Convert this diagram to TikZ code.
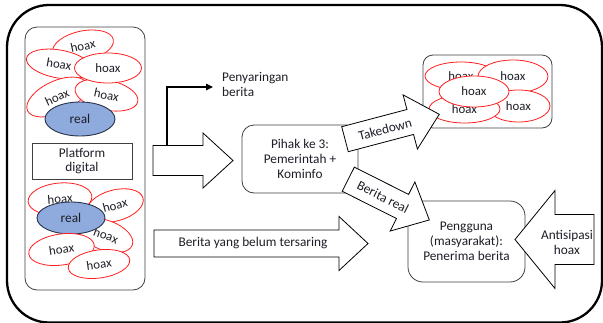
\documentclass[tikz,border=0pt]{standalone}
\usepackage{fontspec}
\setmainfont{Carlito}
\usetikzlibrary{shapes.geometric,arrows.meta}
\definecolor{hoaxred}{RGB}{255,30,30}
\definecolor{realfill}{RGB}{143,170,220}
\definecolor{realline}{RGB}{40,50,75}
\definecolor{boxline}{RGB}{64,64,64}
\definecolor{txt}{RGB}{30,30,40}
\newcommand\blkarrow[6]{%
  \draw[blk,shift={#1},rotate=#2] (0,-#4/2) -- ({#3-#6},-#4/2) -- ({#3-#6},-#5/2) -- (#3,0)
    -- ({#3-#6},#5/2) -- ({#3-#6},#4/2) -- (0,#4/2) -- cycle;}
\begin{document}
\begin{tikzpicture}[x=1pt,y=-1pt,
  font=\fontsize{13.3}{14.8}\selectfont, text=txt,
  hoaxell/.style={ellipse,draw=hoaxred,fill=white,line width=0.8pt,inner sep=0pt,font=\fontsize{12.8}{14}\selectfont},
  realell/.style={ellipse,draw=realline,fill=realfill,line width=0.9pt,inner sep=0pt},
  roundbox/.style={draw=boxline,fill=white,rounded corners=12pt,line width=0.8pt,align=center,inner sep=0pt},
  blk/.style={draw=black,fill=white,line width=0.8pt,line join=miter},
  lbl/.style={align=center,inner sep=0pt}]
\useasboundingbox (0,0) rectangle (603,322);
\clip (0,0) rectangle (603,322);
% outer frame
\draw[line width=2.3pt,rounded corners=42pt] (7,5) rectangle (602,322.5);
% left panel
\node[roundbox,minimum width=120pt,minimum height=263pt] (panel) at (85,158.5) {};
% top cluster
\node[hoaxell,minimum width=62pt,minimum height=30pt,rotate=12] (ha) at (83,46) {hoax};
\node[hoaxell,minimum width=66pt,minimum height=28pt,rotate=-10] (hb) at (59,64) {hoax};
\node[hoaxell,minimum width=65pt,minimum height=32pt,rotate=25] (hd) at (57,97) {hoax};
\node[hoaxell,minimum width=64pt,minimum height=30pt,rotate=-12] (he) at (106.5,95) {hoax};
\node[hoaxell,minimum width=67pt,minimum height=30pt] (hc) at (108,68) {hoax};
\node[realell,minimum width=70pt,minimum height=34pt] (real1) at (80,119) {real};
% platform
\node[draw=boxline,fill=white,line width=0.8pt,minimum width=100pt,minimum height=36pt,align=center,inner sep=0pt] (platform) at (82,161) {Platform\\digital};
% bottom cluster
\node[hoaxell,minimum width=64pt,minimum height=32pt,rotate=5] (hf) at (60,199) {hoax};
\node[hoaxell,minimum width=58pt,minimum height=31pt,rotate=15] (hg) at (115,205.5) {hoax};
\node[hoaxell,minimum width=56pt,minimum height=30pt,rotate=-20] (hh) at (106,235.5) {hoax};
\node[realell,minimum width=68pt,minimum height=32pt] (real2) at (71,218) {real};
\node[hoaxell,minimum width=66pt,minimum height=31pt,rotate=8] (hi) at (61.5,249.5) {hoax};
\node[hoaxell,minimum width=62pt,minimum height=28pt,rotate=8] (hj) at (99,264) {hoax};
% big arrow to Pihak
\blkarrow{(153,160.5)}{0}{80}{30}{55}{30}
\coordinate (elbstart) at (167,145.5);
\coordinate (elbend) at (213,87);
\draw[line width=1.2pt,-{Triangle[length=7pt,width=6.5pt]}] (elbstart) |- (elbend);
\node[anchor=west,align=left,inner sep=0pt] (penyaringan) at (222,84.5) {Penyaringan\\berita};
% Pihak box
\node[roundbox,minimum width=116pt,minimum height=68pt] (pihak) at (300,159) {Pihak ke 3:\\Pemerintah +\\Kominfo};
% hoax group
\node[roundbox,rounded corners=10pt,minimum width=129pt,minimum height=73pt] (group) at (487.5,91.5) {};
\node[hoaxell,minimum width=72pt,minimum height=28pt] (g1) at (461,76) {hoax};
\node[hoaxell,minimum width=70pt,minimum height=33pt] (g2) at (513,76.5) {hoax};
\node[hoaxell,minimum width=63pt,minimum height=32pt] (g3) at (518.5,106) {hoax};
\node[hoaxell,minimum width=71pt,minimum height=28pt] (g4) at (464.5,109) {hoax};
\node[hoaxell,minimum width=70pt,minimum height=31pt] (g5) at (474,91.5) {hoax};
% Takedown arrow
\blkarrow{(345,139.2)}{14.8}{97.5}{25.8}{56}{30}
\node[lbl,rotate=14.8] (takedown) at (385,129.5) {Takedown};
% Pengguna box
\node[roundbox,rounded corners=15pt,minimum width=117pt,minimum height=81pt] (pengguna) at (466.5,241.5) {Pengguna\\(masyarakat):\\Penerima berita};
% Berita real arrow
\blkarrow{(348.3,179.2)}{-26.7}{90.7}{27}{55}{30}
\node[lbl,rotate=-26.7] (beritareal) at (383,197) {Berita real};
% Berita yang belum tersaring
\blkarrow{(154,243.5)}{0}{214}{27}{54}{29}
\node[lbl] (belum) at (253,243.5) {Berita yang belum tersaring};
% Antisipasi arrow (pointing left)
\blkarrow{(594,239.5)}{180}{79}{50}{98}{40}
\node[lbl] (antisipasi) at (567,242.5) {Antisipasi\\hoax};
\end{tikzpicture}
\end{document}
